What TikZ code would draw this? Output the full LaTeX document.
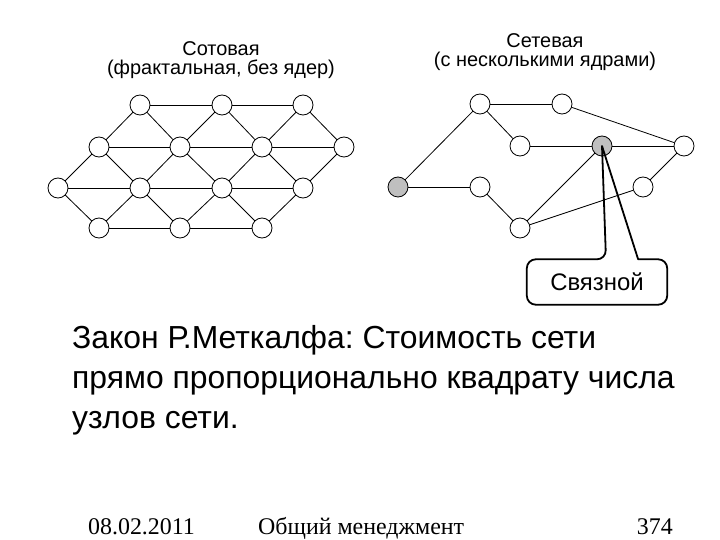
\documentclass[tikz,border=0pt]{standalone}
\usepackage{fontspec}
\setmainfont{Liberation Sans}
\newfontfamily\footfont{Liberation Serif}
\usetikzlibrary{calc}
\frenchspacing
\tikzset{
	uzel/.style={draw, circle, minimum size=20bp, inner sep=0pt, line width=0.8bp},
	yadro/.style={uzel, fill=black!25},
	svyaz/.style={line width=0.8bp},
	vynoska/.style={line width=1.8bp, line join=round}
}
\begin{document}
\begin{tikzpicture}[x=1bp, y=-1bp, line join=round, line cap=round]
		\useasboundingbox (0,0) rectangle (720,540);
		% заголовки (anchor=base -- по последней строке)
		\node[anchor=base, align=center, font=\fontsize{20}{20}\selectfont] (t1) at (221,75) {Сотовая\\(фрактальная, без ядер)};
		\node[anchor=base, align=center, font=\fontsize{20}{20}\selectfont] (t2) at (545,67) {Сетевая\\(с несколькими ядрами)};
		% сотовая сеть
		\foreach \n/\x/\y in {s1/140/105, s2/222/105, s3/303/105,
			s4/99/147, s5/180/147, s6/262/147, s7/344/147,
			s8/58/188, s9/140/188, s10/222/188, s11/303/188,
			s12/99/228, s13/180/228, s14/262/228}{
		\node[uzel] (\n) at (\x,\y) {};
		}
		\foreach \a/\b in {s1/s2, s2/s3, s4/s5, s5/s6, s6/s7, s8/s9, s9/s10, s10/s11, s12/s13, s13/s14,
			s1/s4, s1/s5, s2/s5, s2/s6, s3/s6, s3/s7,
			s4/s8, s4/s9, s5/s9, s5/s10, s6/s10, s6/s11, s7/s11,
			s8/s12, s9/s12, s9/s13, s10/s13, s10/s14, s11/s14}{
		\draw[svyaz] (\a) -- (\b);
		}
		% сетевая с ядрами
		\foreach \n/\x/\y in {n1/480/104, n2/562/104, n3/520/146, n5/684/146,
			n7/480/187, n8/643/187, n9/520/228}{
		\node[uzel] (\n) at (\x,\y) {};
		}
		\node[yadro] (n4) at (602,146) {};
		\node[yadro] (n6) at (398,187) {};
		\foreach \a/\b in {n1/n2, n1/n3, n1/n6, n2/n5, n3/n4, n4/n5, n4/n9, n5/n8, n6/n7, n7/n9, n9/n8}{
		\draw[svyaz] (\a) -- (\b);
		}
		% выноска
		\node[font=\fontsize{24}{28}\selectfont, minimum width=140bp, minimum height=45bp, inner sep=0pt] (svz) at (597,282) {Связной};
		\draw[vynoska] ($(svz.north west)!0.564!(svz.north east)$) -- (n4.center) -- ($(svz.north west)!0.793!(svz.north east)$)
			[rounded corners=9bp] -- (svz.north east) -- (svz.south east) -- (svz.south west) -- (svz.north west) -- cycle;
		% текст
		\node[anchor=base west, align=left, font=\fontsize{32}{40}\selectfont, inner sep=0pt] (zakon) at (72,428)
			{Закон Р.Меткалфа: Стоимость сети\\прямо пропорционально квадрату числа\\узлов сети.};
		\path[font=\footfont\fontsize{24}{28}\selectfont, inner sep=0pt]
		node[anchor=base west] (data) at (88,534) {08.02.2011}
		node[anchor=base west] (kurs) at (258,534) {Общий менеджмент}
		node[anchor=base east] (str) at (673,534) {374};
	\end{tikzpicture}
\end{document}
